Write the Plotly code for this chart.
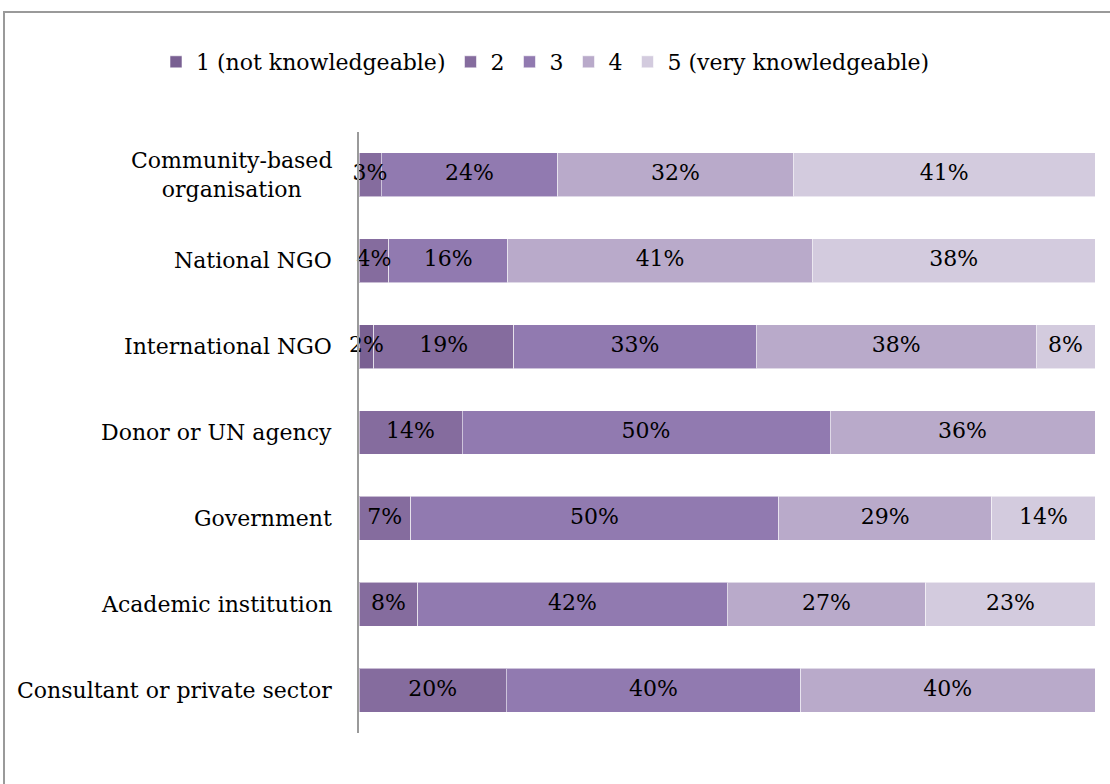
import plotly.graph_objects as go

# Respondent types, top to bottom
categories = [
    "Community-based<br>organisation",
    "National NGO",
    "International NGO",
    "Donor or UN agency",
    "Government",
    "Academic institution",
    "Consultant or private sector",
]

series_names = ["1 (not knowledgeable)", "2", "3", "4", "5 (very knowledgeable)"]

# Share of respondents (%) at each knowledge level
level_1 = [0, 0, 2, 0, 0, 0, 0]
level_2 = [3, 4, 19, 14, 7, 8, 20]
level_3 = [24, 16, 33, 50, 50, 42, 40]
level_4 = [32, 41, 38, 36, 29, 27, 40]
level_5 = [41, 38, 8, 0, 14, 23, 0]

series_values = [level_1, level_2, level_3, level_4, level_5]
colors = ["#796092", "#856c9e", "#917ab0", "#b9aaca", "#d3cbde"]

W, H = 1110, 784
ML, MR, MT, MB = 359, 15, 132, 51
PW, PH = W - ML - MR, H - MT - MB

FONT = "DejaVu Serif"

fig = go.Figure()
for name, vals, col in zip(series_names, series_values, colors):
    fig.add_trace(go.Bar(
        y=categories,
        x=vals,
        name=name,
        orientation="h",
        marker=dict(color=col, line=dict(color="rgba(255,255,255,0.55)", width=1)),
        hoverinfo="x+y+name",
    ))

# Value labels drawn on top of all segments, centred in each segment
# (positions follow the same percent normalisation the bars use)
row_totals = [sum(row) for row in zip(*series_values)]
lab_x, lab_y, lab_t = [], [], []
for i, cat in enumerate(categories):
    start = 0.0
    for vals in series_values:
        v = vals[i]
        share = 100.0 * v / row_totals[i]
        if v:
            lab_x.append(start + share / 2)
            lab_y.append(cat)
            lab_t.append(f"{v}%")
        start += share
fig.add_trace(go.Scatter(
    x=lab_x, y=lab_y, text=lab_t, mode="text",
    textposition="middle center",
    textfont=dict(family=FONT, size=22, color="#000000"),
    showlegend=False, hoverinfo="skip", cliponaxis=False,
))

# Category labels, centred line by line and right-aligned against the axis
for cat in categories:
    fig.add_annotation(
        x=0, xref="paper", y=cat, yref="y",
        text=cat, showarrow=False,
        xanchor="right", xshift=-25, align="center",
        font=dict(family=FONT, size=22, color="#000000"),
    )

# Outer chart frame
fig.add_shape(
    type="rect", xref="paper", yref="paper",
    x0=(4 - ML) / PW, x1=(W + 20 - ML) / PW,
    y0=-(MB + 20) / PH, y1=1 + (MT - 12) / PH,
    line=dict(color="#9a9a9a", width=2), fillcolor="rgba(0,0,0,0)", layer="below",
)

fig.update_layout(
    width=W, height=H,
    margin=dict(l=ML, r=MR, t=MT, b=MB),
    paper_bgcolor="white", plot_bgcolor="white",
    barmode="stack", barnorm="percent", bargap=0.488,
    showlegend=True,
    legend=dict(
        orientation="h",
        x=(156 - ML) / PW, xanchor="left",
        y=1 + (MT - 62) / PH, yanchor="middle",
        font=dict(family=FONT, size=22, color="#000000"),
        itemwidth=30, traceorder="normal",
        bgcolor="rgba(0,0,0,0)",
    ),
    xaxis=dict(range=[0, 100], visible=False, fixedrange=True),
    yaxis=dict(
        autorange="reversed", showticklabels=False, ticks="",
        showline=True, linecolor="#9a9a9a", linewidth=2,
        showgrid=False, zeroline=False,
    ),
    font=dict(family=FONT),
)

fig.write_html("out.html")
